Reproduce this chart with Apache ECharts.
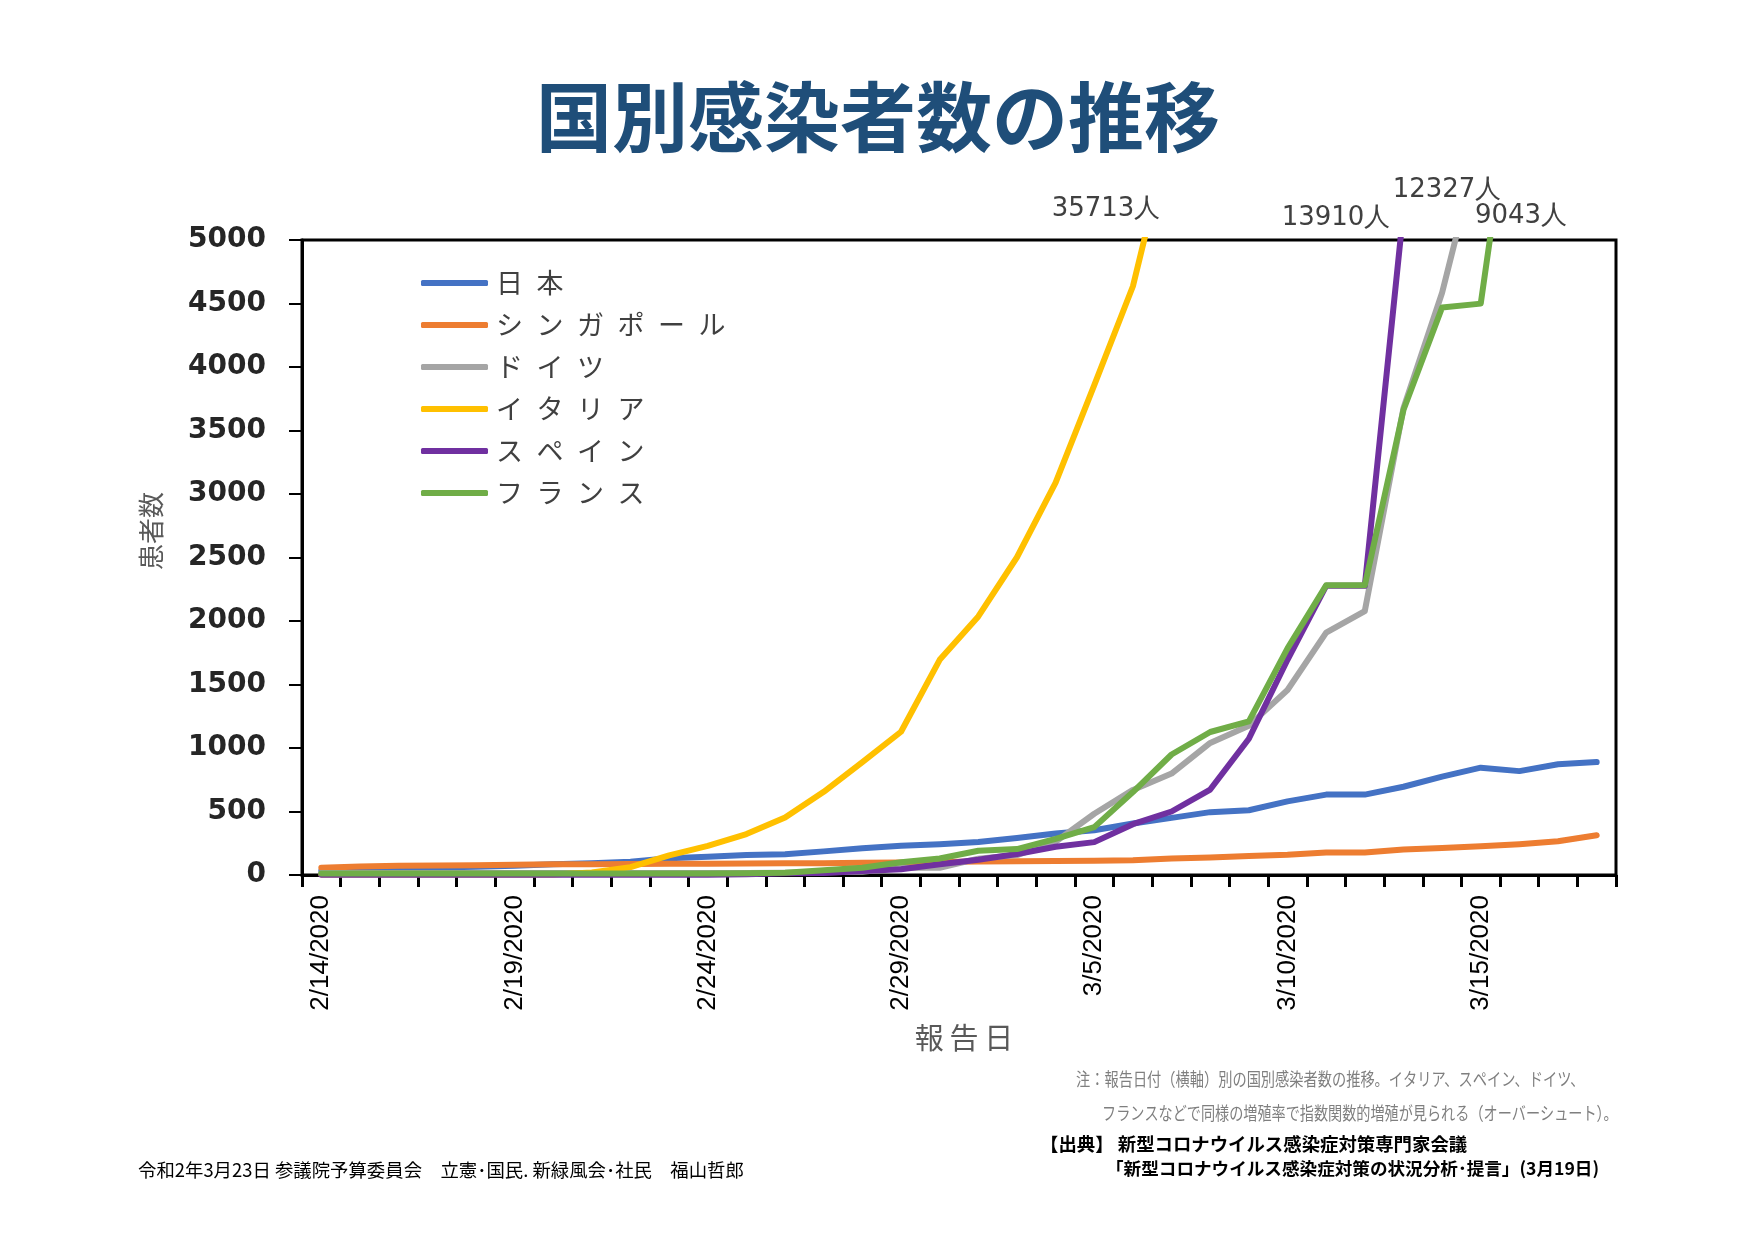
<!DOCTYPE html>
<html>
<head>
<meta charset="utf-8">
<style>
  html, body { margin: 0; padding: 0; background: #ffffff; }
  #chart { width: 1754px; height: 1241px; }
</style>
<script src="https://cdn.jsdelivr.net/npm/echarts@6/dist/echarts.min.js"></script>
</head>
<body>
<div id="chart"></div>
<script>
// ---- data (report dates 2/14/2020 .. 3/18/2020) ----
const dates = ["2/14/2020","2/15/2020","2/16/2020","2/17/2020","2/18/2020","2/19/2020","2/20/2020","2/21/2020","2/22/2020","2/23/2020","2/24/2020","2/25/2020","2/26/2020","2/27/2020","2/28/2020","2/29/2020","3/1/2020","3/2/2020","3/3/2020","3/4/2020","3/5/2020","3/6/2020","3/7/2020","3/8/2020","3/9/2020","3/10/2020","3/11/2020","3/12/2020","3/13/2020","3/14/2020","3/15/2020","3/16/2020","3/17/2020","3/18/2020"];

const japan     = [33, 41, 53, 59, 65, 73, 84, 93, 105, 132, 144, 157, 164, 186, 210, 230, 243, 259, 291, 326, 353, 405, 450, 495, 510, 580, 633, 633, 695, 775, 845, 818, 872, 889];
const singapore = [58, 67, 72, 75, 77, 81, 84, 85, 86, 89, 89, 91, 93, 93, 96, 98, 102, 106, 108, 110, 112, 117, 130, 138, 150, 160, 178, 178, 200, 212, 226, 243, 266, 313];
const germany   = [16, 16, 16, 16, 16, 16, 16, 16, 16, 16, 16, 16, 18, 21, 26, 57, 57, 129, 157, 262, 482, 670, 799, 1040, 1176, 1457, 1908, 2078, 3675, 4585, 5795, 7272, 9257, 12327];
const italy     = [3, 3, 3, 3, 3, 3, 3, 20, 62, 155, 229, 322, 453, 655, 888, 1128, 1694, 2036, 2502, 3089, 3858, 4636, 5883, 7375, 9172, 10149, 12462, 15113, 17660, 21157, 24747, 27980, 31506, 35713];
const spain     = [2, 2, 2, 2, 2, 2, 2, 2, 2, 2, 2, 6, 13, 15, 32, 45, 84, 120, 165, 222, 259, 400, 500, 673, 1073, 1695, 2277, 2277, 5232, 6391, 7798, 9942, 11748, 13910];
const france    = [11, 11, 12, 12, 12, 12, 12, 12, 12, 12, 12, 14, 18, 38, 57, 100, 130, 191, 204, 285, 377, 653, 949, 1126, 1209, 1784, 2281, 2281, 3661, 4469, 4499, 6633, 7652, 9043];

const seriesNames  = ["日本", "シンガポール", "ドイツ", "イタリア", "スペイン", "フランス"];
const seriesColors = ["#4472C4", "#ED7D31", "#A5A5A5", "#FFC000", "#7030A0", "#70AD47"];
const seriesData   = [japan, singapore, germany, italy, spain, france];

const yTicks = { min: 0, max: 5000, interval: 500 };

const last = arr => arr[arr.length - 1];

const chart = echarts.init(document.getElementById('chart'), null, { renderer: 'canvas' });

const option = {
  backgroundColor: '#ffffff',
  animation: false,
  grid: {
    left: 302, right: 138, top: 240, bottom: 366,
    show: true, borderColor: '#000000', borderWidth: 3, backgroundColor: 'transparent'
  },
  legend: {
    orient: 'vertical',
    left: 416, top: 263,
    itemWidth: 67, itemHeight: 6, itemGap: 12,
    icon: 'roundRect',
    data: seriesNames,
    formatter: name => name.split('').join('\u2002'),
    textStyle: {
      fontFamily: 'Noto Sans CJK JP', fontSize: 27, color: '#404040',
      lineHeight: 30, padding: [0, 0, 0, 3]
    }
  },
  xAxis: {
    type: 'category',
    data: dates,
    boundaryGap: true,
    axisLine: { lineStyle: { color: '#000', width: 3 } },
    axisTick: { show: true, interval: 0, length: 12, lineStyle: { color: '#000', width: 3 } },
    axisLabel: {
      interval: 4, rotate: 90, margin: 20,
      fontFamily: 'Liberation Sans', fontSize: 26, color: '#000'
    },
    splitLine: { show: false }
  },
  yAxis: {
    type: 'value',
    min: yTicks.min, max: yTicks.max, interval: yTicks.interval,
    axisLine: { show: true, lineStyle: { color: '#000', width: 3 } },
    axisTick: { show: true, length: 13, lineStyle: { color: '#000', width: 2 } },
    axisLabel: {
      margin: 36, fontFamily: 'DejaVu Sans', fontWeight: 'bold', fontSize: 28, color: '#262626',
      formatter: v => String(v)
    },
    splitLine: { show: false }
  },
  series: seriesNames.map((n, i) => ({
    name: n,
    type: 'line',
    data: seriesData[i],
    showSymbol: false,
    symbol: 'none',
    clip: true,
    color: seriesColors[i],
    lineStyle: { color: seriesColors[i], width: 6, cap: 'round', join: 'round' },
    emphasis: { disabled: true }
  })),
  graphic: [
    { type: 'text', x: 878, y: 117, style: {
      text: '国別感染者数の推移', fontFamily: 'Noto Sans CJK JP', fontWeight: 'bold', fontSize: 76,
      fill: '#1F4E79', align: 'center', verticalAlign: 'middle' } },
    { type: 'text', x: 151, y: 531, rotation: Math.PI / 2, style: {
      text: '患者数', fontFamily: 'Noto Sans CJK JP', fontSize: 26, fill: '#595959',
      align: 'center', verticalAlign: 'middle' } },
    { type: 'text', x: 964, y: 1038, style: {
      text: '報\u2009告\u2009日', fontFamily: 'Noto Sans CJK JP', fontSize: 29, fill: '#595959',
      align: 'center', verticalAlign: 'middle' } },
    // values reached beyond the top of the axis
    { type: 'text', x: 1106, y: 209, style: { text: last(italy) + '人', fontFamily: 'DejaVu Sans', fontSize: 26, fill: '#404040', align: 'center', verticalAlign: 'middle' } },
    { type: 'text', x: 1336, y: 218, style: { text: last(spain) + '人', fontFamily: 'DejaVu Sans', fontSize: 26, fill: '#404040', align: 'center', verticalAlign: 'middle' } },
    { type: 'text', x: 1447, y: 190, style: { text: last(germany) + '人', fontFamily: 'DejaVu Sans', fontSize: 26, fill: '#404040', align: 'center', verticalAlign: 'middle' } },
    { type: 'text', x: 1521, y: 216, style: { text: last(france) + '人', fontFamily: 'DejaVu Sans', fontSize: 26, fill: '#404040', align: 'center', verticalAlign: 'middle' } },
    // notes
    { type: 'text', x: 1076, y: 1079, scaleX: 0.79, style: {
      text: '注：報告日付（横軸）別の国別感染者数の推移。イタリア、スペイン、ドイツ、',
      fontFamily: 'Noto Sans CJK JP', fontSize: 18, fill: '#7F7F7F', align: 'left', verticalAlign: 'middle' } },
    { type: 'text', x: 1102, y: 1113, scaleX: 0.785, style: {
      text: 'フランスなどで同様の増殖率で指数関数的増殖が見られる（オーバーシュート）。',
      fontFamily: 'Noto Sans CJK JP', fontSize: 18, fill: '#7F7F7F', align: 'left', verticalAlign: 'middle' } },
    { type: 'text', x: 1040, y: 1144, style: {
      text: '【出典】 新型コロナウイルス感染症対策専門家会議',
      fontFamily: 'Noto Sans CJK JP', fontWeight: 'bold', fontSize: 18.4, fill: '#000', align: 'left', verticalAlign: 'middle' } },
    { type: 'text', x: 1106, y: 1168, style: {
      text: '「新型コロナウイルス感染症対策の状況分析･提言」(3月19日)',
      fontFamily: 'Noto Sans CJK JP', fontWeight: 'bold', fontSize: 17.6, fill: '#000', align: 'left', verticalAlign: 'middle' } },
    { type: 'text', x: 138, y: 1170, style: {
      text: '令和2年3月23日 参議院予算委員会　立憲･国民. 新緑風会･社民　福山哲郎',
      fontFamily: 'Noto Sans CJK JP', fontSize: 18.4, fill: '#000', align: 'left', verticalAlign: 'middle' } }
  ]
};

chart.setOption(option);
</script>
</body>
</html>
